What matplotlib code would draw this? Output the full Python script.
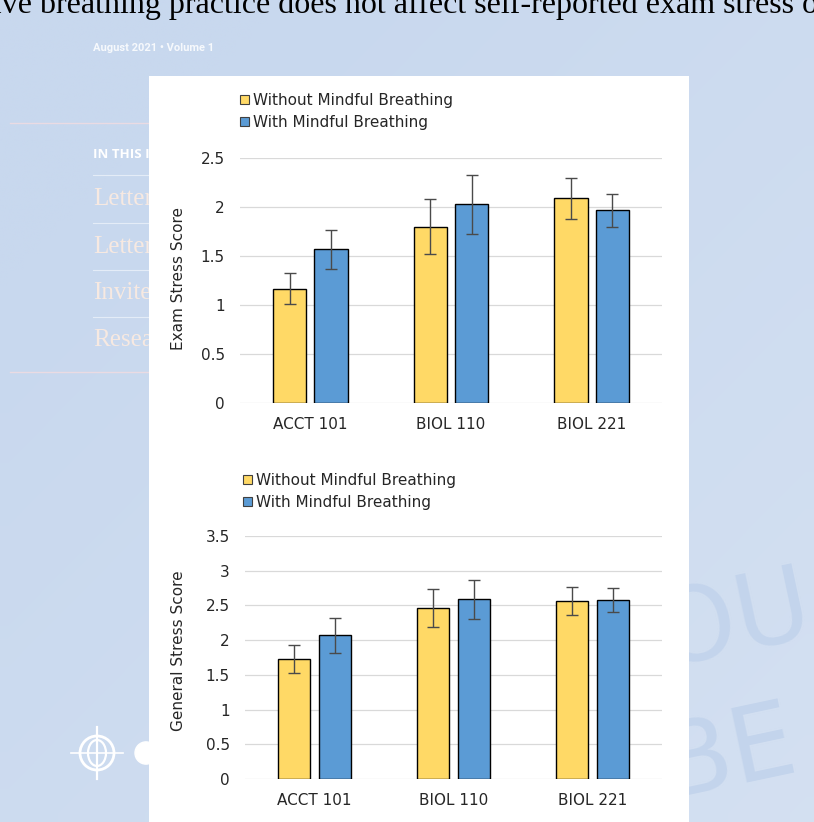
import matplotlib
matplotlib.use("Agg")
import matplotlib.pyplot as plt
from matplotlib.patches import Rectangle, Patch, Circle, Ellipse
from matplotlib.lines import Line2D
import numpy as np

# ---------------- data ----------------
courses = ["ACCT 101", "BIOL 110", "BIOL 221"]
series_names = ["Without Mindful Breathing", "With Mindful Breathing"]

exam_without = [1.17, 1.80, 2.09]
exam_without_err = [0.155, 0.28, 0.205]
exam_with = [1.57, 2.03, 1.97]
exam_with_err = [0.20, 0.30, 0.17]

gen_without = [1.73, 2.46, 2.56]
gen_without_err = [0.20, 0.27, 0.20]
gen_with = [2.07, 2.59, 2.58]
gen_with_err = [0.25, 0.28, 0.175]

exam_ticks = [0, 0.5, 1, 1.5, 2, 2.5]
gen_ticks = [0, 0.5, 1, 1.5, 2, 2.5, 3, 3.5]

# ---------------- styling ----------------
W, H = 814, 822
YELLOW = "#FFD966"
BLUE = "#5B9BD5"
BG = "#c9d9ef"
TXT = "#262626"
plt.rcParams["font.family"] = ["DejaVu Sans"]


def fx(x):
    return x / W


def fy(y):
    return 1 - y / H


fig = plt.figure(figsize=(W / 100, H / 100), dpi=100)
fig.patch.set_facecolor(BG)

# soft page background gradient
bg_ax = fig.add_axes([0, 0, 1, 1])
bg_ax.set_zorder(-10)
gy, gx = np.mgrid[0:1:50j, 0:1:50j]
t = np.clip(0.55 * gx + 0.55 * gy - 0.2, 0, 1)[..., None]
c0 = np.array([200, 216, 238]) / 255
c1 = np.array([213, 225, 242]) / 255
bg_ax.imshow(c0 * (1 - t) + c1 * t, extent=[0, 1, 0, 1], origin="upper", aspect="auto",
             interpolation="bilinear")
bg_ax.set_axis_off()

# ---------------- page decoration (behind the white panel) ----------------
fig.text(fx(-16), fy(13), "tive breathing practice does not affect self-reported exam stress or",
         fontfamily="Liberation Serif", fontsize=23, color="black", va="baseline", zorder=-3)
fig.text(fx(93), fy(48), "August 2021 \u2022 Volume 1", fontfamily="Roboto", fontweight="bold",
         fontsize=8, color="white", alpha=0.85, va="center", zorder=-3)
fig.add_artist(Line2D([fx(10), fx(150)], [fy(123), fy(123)], color="#eadbe3", lw=1,
                      transform=fig.transFigure, zorder=-3))
fig.add_artist(Line2D([fx(10), fx(150)], [fy(372), fy(372)], color="#eadbe3", lw=1,
                      transform=fig.transFigure, zorder=-3))
fig.text(fx(93), fy(155), "IN THIS ISSUE", fontfamily="Open Sans", fontweight="bold",
         fontsize=9.5, color="white", va="center", zorder=-3)
for yy in [175, 223, 270, 317]:
    fig.add_artist(Line2D([fx(93), fx(150)], [fy(yy), fy(yy)], color="#e4ecf7", lw=0.8,
                          transform=fig.transFigure, zorder=-3))
for yy, t_ in zip([199, 247, 293, 340], ["Letter", "Letter", "Invited", "Research"]):
    fig.text(fx(93), fy(yy), t_, fontfamily="Liberation Serif", fontsize=18, color="#f7e9e1",
             va="center", zorder=-3)

# faint watermark letters on the right
fig.text(fx(592), fy(630), "YOU", fontsize=74, color="#c3d4ec",
         rotation=12, va="center", zorder=-3)
fig.text(fx(652), fy(755), "BE", fontsize=74, color="#c3d4ec",
         rotation=12, va="center", zorder=-3)

# logo
fig.add_artist(Ellipse((fx(97), fy(753)), 34 / W, 34 / H, fill=False, ec="white", lw=2,
                       transform=fig.transFigure, zorder=-3))
fig.add_artist(Ellipse((fx(97), fy(753)), 18 / W, 26 / H, fill=False, ec="white", lw=1.6,
                       transform=fig.transFigure, zorder=-3))
fig.add_artist(Line2D([fx(97), fx(97)], [fy(727), fy(779)], color="white", lw=1.6,
                      transform=fig.transFigure, zorder=-3))
fig.add_artist(Line2D([fx(71), fx(123)], [fy(753), fy(753)], color="white", lw=1.2,
                      transform=fig.transFigure, zorder=-3))
fig.add_artist(Circle((fx(146), fy(753)), 11 / W, color="white", transform=fig.transFigure,
                      zorder=-3))

# white panel holding the chart image
fig.add_artist(Rectangle((fx(149), 0), (689 - 149) / W, fy(76), facecolor="white",
                         edgecolor="none", transform=fig.transFigure, zorder=-1))


# ---------------- charts ----------------
def draw(ax, without, without_err, with_, with_err, ticks, ylabel, lab_x, legend_xy):
    x = np.arange(len(courses))
    off, wid = 0.147, 0.235
    ekw = dict(ecolor="#4a4a4a", elinewidth=1, capsize=4, capthick=1)
    ax.bar(x - off, without, wid, color=YELLOW, edgecolor="black", lw=1,
           yerr=without_err, error_kw=ekw, zorder=3)
    ax.bar(x + off, with_, wid, color=BLUE, edgecolor="black", lw=1,
           yerr=with_err, error_kw=ekw, zorder=3)
    ax.set_xlim(-0.5, len(courses) - 0.5)
    ax.set_ylim(ticks[0], ticks[-1])
    ax.set_yticks(ticks)
    ax.set_yticklabels([f"{v:g}" for v in ticks])
    ax.set_xticks(x)
    ax.set_xticklabels(courses)
    ax.tick_params(axis="both", length=0, labelsize=11, colors=TXT)
    ax.tick_params(axis="y", pad=11)
    ax.tick_params(axis="x", pad=10)
    for s in ax.spines.values():
        s.set_visible(False)
    ax.yaxis.grid(True, color="#d9d9d9", lw=0.9, zorder=0)
    ax.set_axisbelow(True)
    ax.patch.set_alpha(0)
    ax.set_ylabel(ylabel, fontsize=11, color=TXT)
    ax.yaxis.set_label_coords(*lab_x)
    handles = [Patch(facecolor=YELLOW, edgecolor="#404040", lw=0.8),
               Patch(facecolor=BLUE, edgecolor="#404040", lw=0.8)]
    fig.legend(handles, series_names, loc="upper left", bbox_to_anchor=legend_xy,
               frameon=False, fontsize=11, handlelength=0.6, handleheight=0.6,
               handletextpad=0.25, borderpad=0, borderaxespad=0, labelspacing=0.45,
               labelcolor=TXT)


ax1 = fig.add_axes([fx(240), fy(403.3), (662 - 240) / W, (403.3 - 158.3) / H])
draw(ax1, exam_without, exam_without_err, exam_with, exam_with_err, exam_ticks,
     "Exam Stress Score", ((186 - 240) / 422, 0.51), (fx(240), fy(93)))

ax2 = fig.add_axes([fx(245), fy(779), (662 - 245) / W, (779 - 536) / H])
draw(ax2, gen_without, gen_without_err, gen_with, gen_with_err, gen_ticks,
     "General Stress Score", ((186 - 245) / 417, 0.53), (fx(243), fy(473)))

fig.savefig("out.png", dpi=100, facecolor=fig.get_facecolor())
